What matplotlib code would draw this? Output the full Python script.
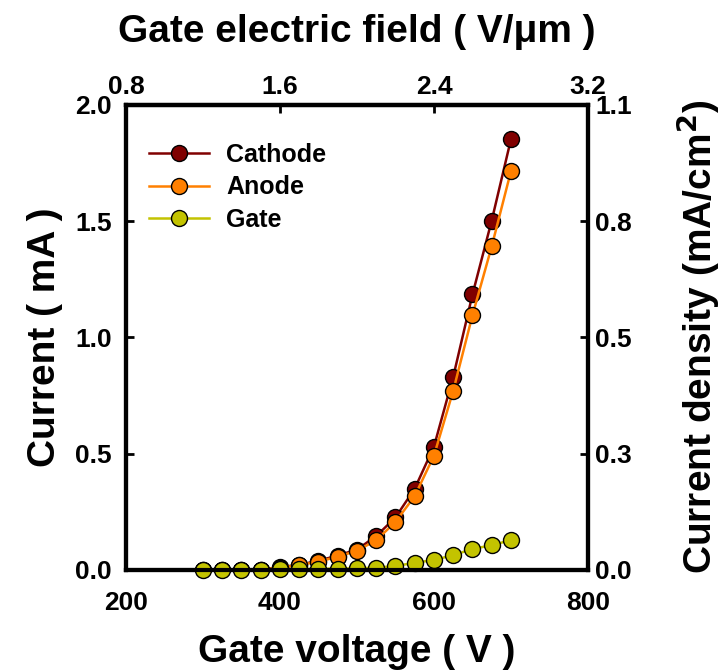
import matplotlib
matplotlib.use("Agg")
import matplotlib.pyplot as plt

plt.rcParams["font.family"] = ["Liberation Sans", "DejaVu Sans"]
plt.rcParams["font.weight"] = "bold"
plt.rcParams["mathtext.default"] = "bf"

voltage = [300, 325, 350, 375, 400, 425, 450, 475, 500, 525, 550, 575, 600, 625, 650, 675, 700]
cathode = [0.0, 0.0, 0.0, 0.002, 0.012, 0.022, 0.04, 0.062, 0.088, 0.146, 0.226, 0.35, 0.531, 0.831, 1.185, 1.503, 1.853]
anode = [0.0, 0.0, 0.0, 0.002, 0.01, 0.021, 0.036, 0.057, 0.083, 0.128, 0.207, 0.318, 0.492, 0.771, 1.096, 1.392, 1.716]
gate = [0.001, 0.001, 0.001, 0.002, 0.003, 0.004, 0.005, 0.006, 0.007, 0.01, 0.017, 0.031, 0.043, 0.064, 0.09, 0.107, 0.128]

field_ticks = [0.8, 1.6, 2.4, 3.2]
density_ticks = [0.0, 0.275, 0.55, 0.825, 1.1]
density_labels = ["0.0", "0.3", "0.5", "0.8", "1.1"]

dark_red = "#800000"
orange = "#ff8000"
olive = "#c3c300"

fig = plt.figure(figsize=(7.25, 6.72), dpi=100)
ax = fig.add_axes([0.1738, 0.1518, 0.6372, 0.6920])

style = dict(marker="o", markersize=11.5, markeredgecolor="black", markeredgewidth=1.0, linewidth=1.8)
ax.plot(voltage, cathode, color=dark_red, markerfacecolor=dark_red, label="Cathode", **style)
ax.plot(voltage, anode, color=orange, markerfacecolor=orange, label="Anode", **style)
ax.plot(voltage, gate, color=olive, markerfacecolor=olive, label="Gate", **style, clip_on=False, zorder=5)

ax.set_xlim(200, 800)
ax.set_ylim(0, 2.0)
ax.set_xticks([200, 400, 600, 800])
ax.set_yticks([0.0, 0.5, 1.0, 1.5, 2.0])
ax.set_yticklabels(["0.0", "0.5", "1.0", "1.5", "2.0"])

for s in ax.spines.values():
    s.set_linewidth(3)
ax.tick_params(direction="in", length=6, width=2, labelsize=19)
ax.tick_params(axis="x", pad=15)
ax.tick_params(axis="y", pad=10)

ax.set_xlabel("Gate voltage ( V )", fontsize=28, fontweight="bold", labelpad=14)
ax.set_ylabel("Current ( mA )", fontsize=28, fontweight="bold", labelpad=9)

top = ax.secondary_xaxis("top", functions=(lambda v: v / 250.0, lambda f: f * 250.0))
top.set_xticks(field_ticks)
top.set_xticklabels([f"{t:.1f}" for t in field_ticks])
top.tick_params(direction="in", length=6, width=2, labelsize=19, pad=4)
top.spines["top"].set_linewidth(3)
top.set_xlabel("Gate electric field ( V/\u03bcm )", fontsize=28, fontweight="bold", labelpad=24)

right = ax.twinx()
right.set_ylim(0, 1.1)
right.set_yticks(density_ticks)
right.set_yticklabels(density_labels)
right.tick_params(direction="in", length=6, width=2, labelsize=19, pad=5)
for s in right.spines.values():
    s.set_linewidth(3)
right.set_ylabel("Current density (mA/cm$^\\mathbf{2}$)", fontsize=28, fontweight="bold", labelpad=31)

leg = ax.legend(loc="upper left", bbox_to_anchor=(0.0, 0.967), frameon=False,
                fontsize=18, handlelength=2.4, labelspacing=0.34, handletextpad=0.7)
for t in leg.get_texts():
    t.set_fontweight("bold")

fig.savefig("out.png", dpi=100)
